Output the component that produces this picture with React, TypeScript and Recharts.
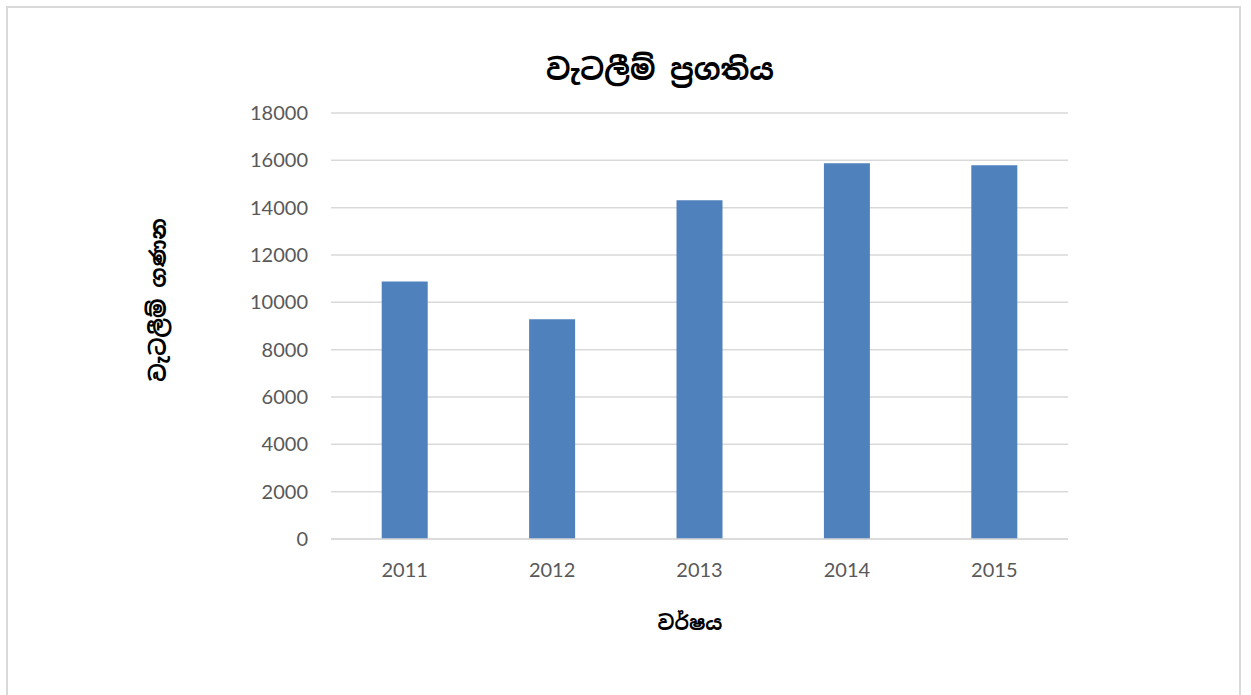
import { BarChart, Bar, XAxis, YAxis, CartesianGrid } from "recharts";

const years = ["2011", "2012", "2013", "2014", "2015"];
const raids = [10880, 9280, 14310, 15880, 15790];
const yTicks = [0, 2000, 4000, 6000, 8000, 10000, 12000, 14000, 16000, 18000];

const title = "වැටලීම් ප්‍රගතිය";
const yTitle = "වැටලීම් ගණන";
const xTitle = "වර්ෂය";

const data = years.map((y, i) => ({ year: y, count: raids[i] }));

const sinhala = '"Noto Sans Sinhala", "Iskoola Pota", "Noto Sans", sans-serif';
const tickStyle = { fontSize: 20, fill: "#595959", fontFamily: "Lato, 'Open Sans', sans-serif" };

export default function App() {
  return (
    <div style={{ position: "fixed", left: 0, top: 0, width: 1251, height: 695, background: "#fff", overflow: "hidden" }}>
      <div
        style={{
          position: "absolute", left: 6, top: 6, width: 1235, height: 720,
          border: "2px solid #d9d9d9", boxSizing: "border-box",
        }}
      />
      <BarChart
        width={1251}
        height={695}
        data={data}
        margin={{ top: 113, right: 183, bottom: 126, left: 0 }}
        barCategoryGap="34.4%"
        style={{ position: "absolute", left: 0, top: 0 }}
      >
        <CartesianGrid vertical={false} stroke="#d9d9d9" strokeWidth={1.5} />
        <XAxis
          dataKey="year"
          height={30}
          tick={tickStyle}
          tickLine={false}
          axisLine={{ stroke: "#d9d9d9", strokeWidth: 1.5 }}
          tickMargin={18}
        />
        <YAxis
          width={331}
          domain={[0, 18000]}
          ticks={yTicks}
          tick={tickStyle}
          tickLine={false}
          axisLine={false}
          tickMargin={17}
          interval={0}
        />
        <Bar dataKey="count" fill="#4f81bd" isAnimationActive={false} />
      </BarChart>
      <div
        style={{
          position: "absolute", left: 0, width: 1320, top: 51, textAlign: "center",
          fontFamily: sinhala, fontWeight: "bold", fontSize: 29, color: "#000",
        }}
      >
        {title}
      </div>
      <div
        style={{
          position: "absolute", left: 0, width: 1380, top: 610, textAlign: "center",
          fontFamily: sinhala, fontWeight: "bold", fontSize: 20, color: "#000",
        }}
      >
        {xTitle}
      </div>
      <div
        style={{
          position: "absolute", left: 158, top: 300, width: 240, marginLeft: -120, marginTop: -14,
          textAlign: "center", transform: "rotate(-90deg)", lineHeight: "28px",
          fontFamily: sinhala, fontWeight: "bold", fontSize: 22, color: "#000",
        }}
      >
        {yTitle}
      </div>
    </div>
  );
}
